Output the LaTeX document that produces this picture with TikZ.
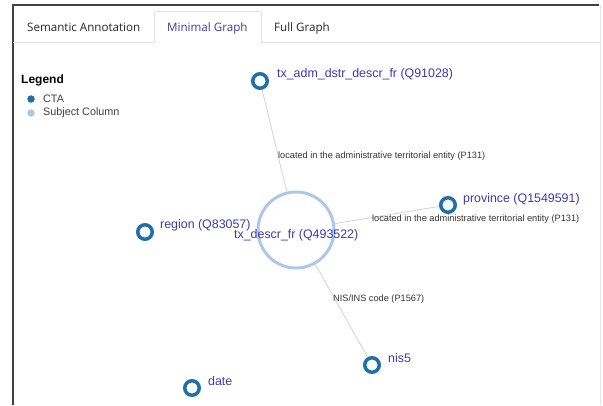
\documentclass[tikz,border=0pt]{standalone}
\usepackage{fontspec}
\setmainfont{Liberation Sans}
\newfontfamily\tabfont{Open Sans}
\usetikzlibrary{positioning}

\definecolor{ctablue}{HTML}{1F6FA8}
\definecolor{subjblue}{HTML}{AEC7E8}
\definecolor{labelblue}{HTML}{3A3AAE}
\definecolor{edgegray}{HTML}{D6D6D6}
\definecolor{tabline}{HTML}{E2E2E2}

\tikzset{
  cta/.style={circle,draw=ctablue,line width=3.5pt,fill=white,minimum size=14.5pt,inner sep=0pt},
  subj/.style={circle,draw=subjblue,line width=3pt,fill=white,minimum size=76pt,inner sep=0pt},
  lbl/.style={text=labelblue,font=\fontsize{12.4}{14}\selectfont,inner sep=0pt,anchor=base west},
  elbl/.style={text=black!80,font=\fontsize{9.2}{11}\selectfont,inner sep=0pt,anchor=base west},
  link/.style={draw=edgegray,line width=0.9pt},
  tabtxt/.style={font=\tabfont\fontsize{11.6}{13}\selectfont,inner sep=0pt,anchor=base west},
  legtxt/.style={font=\fontsize{10.8}{12}\selectfont,text=black!75,inner sep=0pt,anchor=west}
}

\begin{document}
\begin{tikzpicture}[x=1pt,y=-1pt]
    \useasboundingbox (0,0) rectangle (603,405);

    % Panel frame and tab bar
    \draw[black!75,line width=1.2pt] (13,405) -- (13,5) -- (599,5);
    \draw[black!10] (600,5) -- (600,405);
    \draw[tabline] (13,42) -- (154,42) (261,42) -- (600,42);
    \draw[tabline] (154,42) -- (154,11) -- (261,11) -- (261,42);
    \node[tabtxt,text=black!85] (tab-sem) at (27,31) {Semantic Annotation};
    \node[tabtxt,text=labelblue] (tab-min) at (167,31) {Minimal Graph};
    \node[tabtxt,text=black!85] (tab-full) at (274,31) {Full Graph};

    % Legend
    \node[font=\bfseries\fontsize{12}{14}\selectfont,inner sep=0pt,anchor=base west] (leg) at (21,83) {Legend};
    \node[circle,fill=ctablue,minimum size=7.5pt,inner sep=0pt] (leg-cta) at (31,99) {};
    \node[circle,fill=subjblue,minimum size=7.5pt,inner sep=0pt] (leg-subj) at (31,113) {};
    \node[legtxt] (leg-cta-txt) at (43,99) {CTA};
    \node[legtxt] (leg-subj-txt) at (43,113) {Subject Column};

    % Graph nodes
    \node[subj] (tx) at (296,230) {};
    \node[cta] (adm) at (260,81) {};
    \node[cta] (region) at (145,232) {};
    \node[cta] (province) at (448,205) {};
    \node[cta] (nis) at (372,365) {};
    \node[cta] (date) at (192,388) {};

    % Links
    \draw[link] (tx) -- (adm);
    \draw[link] (tx) -- (province);
    \draw[link] (tx) -- (nis);

    % Node labels
    \node[lbl] (adm-lbl) at (277,77) {tx\_adm\_dstr\_descr\_fr (Q91028)};
    \node[lbl] (region-lbl) at (160,228) {region (Q83057)};
    \node[lbl] (tx-lbl) at (234,238) {tx\_descr\_fr (Q493522)};
    \node[lbl] (province-lbl) at (463,202) {province (Q1549591)};
    \node[lbl] (nis-lbl) at (388,362) {nis5};
    \node[lbl] (date-lbl) at (208,385) {date};

    % Link labels
    \node[elbl] (adm-link) at (278,158) {located in the administrative territorial entity (P131)};
    \node[elbl] (province-link) at (372,221) {located in the administrative territorial entity (P131)};
    \node[elbl] (nis-link) at (333,301) {NIS/INS code (P1567)};
\end{tikzpicture}
\end{document}
